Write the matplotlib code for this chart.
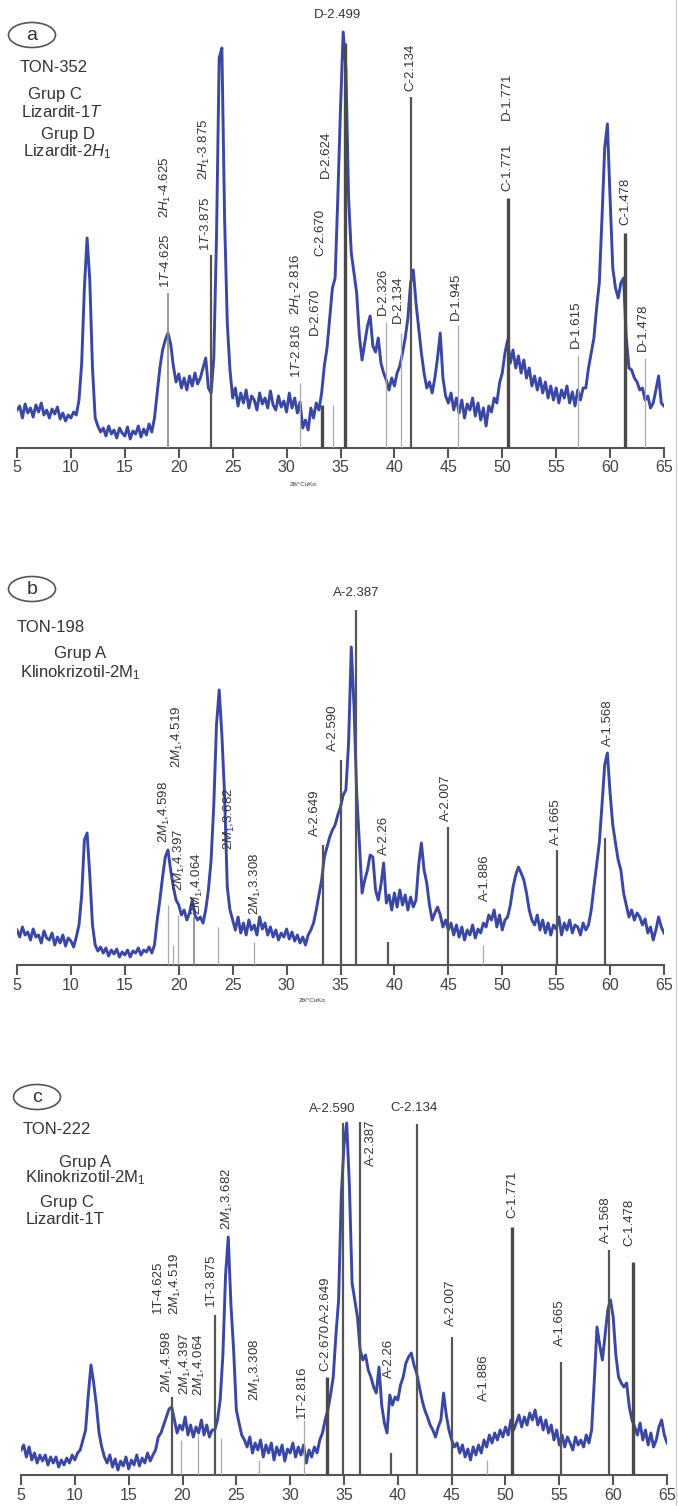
import numpy as np
import matplotlib
matplotlib.use("Agg")
import matplotlib.pyplot as plt
from matplotlib.patches import Ellipse
from matplotlib.lines import Line2D

plt.rcParams['font.family'] = ['Liberation Sans', 'DejaVu Sans']
plt.rcParams['mathtext.fontset'] = 'custom'
plt.rcParams['mathtext.rm'] = 'Liberation Sans'
plt.rcParams['mathtext.it'] = 'Liberation Sans:italic'
plt.rcParams['mathtext.bf'] = 'Liberation Sans:bold'

# intensities (arbitrary units) every 0.25 deg from 5 to 65
a_int = [38, 42, 30, 44,  35, 40, 31, 43,  36, 45, 33, 38,  30, 39, 34, 41,   # 5-8
         29, 35, 27, 33,  30, 36, 33, 48,  85, 160, 210, 168,  80, 30, 22, 16,  # 9-12
         20, 12, 22, 14,  18, 10, 20, 15,  12, 21, 9, 17,  14, 22, 11, 19,     # 13-16
         13, 24, 16, 30,  55, 80, 98, 108,  115, 104, 82, 66,  74, 60, 70, 58,  # 17-20
         72, 62, 75, 64,  70, 80, 90, 60,  55, 90, 210, 390,  400, 230, 125, 78,  # 21-24
         50, 60, 42, 55,  45, 58, 40, 52,  48, 38, 55, 44,  50, 40, 57, 43,    # 25-28
         38, 52, 41, 47,  36, 55, 40, 50,  35, 46, 20, 28,  18, 40, 30, 45,    # 29-32
         38, 55, 82, 100,  130, 160, 170, 250,  340, 416, 380, 250,  195, 175, 155, 112,  # 33-36
         88, 105, 122, 132,  102, 96, 110, 85,  75, 68, 58, 70,  62, 75, 82, 95,  # 37-40
         110, 130, 165, 178,  145, 120, 95, 75,  60, 66, 55, 70,  90, 115, 70, 52,  # 41-44
         45, 55, 38, 50,  35, 48, 30, 44,  38, 50, 32, 45,  28, 40, 22, 42,    # 45-48
         36, 50, 45, 65,  75, 95, 108, 85,  98, 80, 92, 75,  88, 70, 80, 62,   # 49-52
         72, 58, 70, 55,  66, 50, 62, 48,  60, 45, 58, 50,  62, 45, 56, 42,    # 53-56
         58, 48, 60, 60,  80, 95, 110, 140,  165, 230, 300, 324,  250, 180, 160, 150,  # 57-60
         165, 170, 110, 80,  78, 70, 66, 58,  60, 48, 52, 40,  45, 58, 72, 45,  # 61-64
         42]

b_int = [35, 28, 38, 30,  33, 25, 36, 28,  30, 22, 34, 27,  25, 32, 20, 28,   # 5-8
         22, 30, 19, 27,  24, 18, 28, 40,  70, 125, 132, 90,  40, 20, 14, 18,  # 9-12
         12, 17, 9, 15,  11, 16, 8, 13,  10, 15, 8, 14,  12, 17, 10, 15,       # 13-16
         13, 18, 12, 20,  45, 65, 88, 108,  115, 95, 78, 65,  60, 50, 55, 45,  # 17-20
         52, 65, 50, 45,  48, 42, 55, 75,  105, 160, 240, 275,  230, 170, 78, 55,  # 21-24
         45, 35, 48, 32,  42, 30, 45, 35,  40, 30, 48, 36,  42, 30, 38, 28,    # 25-28
         35, 25, 32, 28,  36, 26, 33, 24,  30, 22, 28, 20,  30, 35, 42, 55,    # 29-32
         70, 85, 108, 118,  128, 135, 140, 150,  158, 170, 175, 222,  318, 260, 172, 122,  # 33-36
         72, 85, 95, 110,  108, 75, 65, 80,  102, 62, 70, 55,  72, 58, 75, 60,  # 37-40
         70, 55, 68, 58,  65, 100, 122, 95,  82, 60, 45, 52,  58, 50, 38, 45,  # 41-44
         35, 42, 30, 40,  28, 38, 25, 35,  30, 40, 27, 36,  32, 42, 38, 50,    # 45-48
         45, 55, 38, 50,  35, 45, 48, 60,  78, 90, 98, 92,  85, 72, 55, 45,    # 49-52
         40, 50, 35, 45,  32, 42, 30, 40,  36, 48, 30, 42,  35, 45, 32, 40,    # 53-56
         38, 30, 42, 35,  40, 55, 78, 100,  122, 160, 200, 212,  172, 140, 122, 105,  # 57-60
         95, 72, 60, 48,  55, 45, 52, 48,  40, 46, 32, 38,  25, 35, 48, 38,    # 61-64
         32]

c_int = [25, 30, 18, 28,  15, 22, 12, 20,  14, 20, 10, 18,  12, 18, 8, 15,    # 5-8
         10, 17, 12, 20,  15, 22, 25, 35,  45, 80, 110, 92,  70, 42, 28, 18,   # 9-12
         12, 20, 8, 16,  5, 14, 9, 18,  6, 15, 10, 20,  9, 17, 12, 22,         # 13-16
         14, 20, 25, 38,  42, 50, 58, 66,  68, 55, 42, 50,  45, 58, 40, 50,    # 17-20
         38, 48, 42, 55,  40, 50, 38, 45,  45, 55, 75, 120,  200, 238, 170, 125,  # 21-24
         65, 52, 40, 35,  28, 38, 22, 32,  25, 35, 18, 30,  22, 32, 15, 28,    # 25-28
         20, 30, 14, 26,  22, 32, 18, 28,  20, 30, 12, 25,  18, 28, 22, 35,    # 29-32
         42, 55, 65, 80,  98, 140, 175, 280,  330, 352, 290, 192,  175, 158, 125, 115,  # 33-36
         120, 105, 98, 88,  82, 108, 70, 52,  42, 80, 70, 78,  75, 90, 98, 112,  # 37-40
         118, 122, 110, 102,  88, 75, 65, 58,  50, 45, 38, 48,  55, 82, 60, 45,  # 41-44
         35, 28, 32, 22,  30, 18, 26, 15,  28, 20, 30, 22,  35, 28, 40, 32,    # 45-48
         42, 35, 45, 38,  48, 40, 55, 45,  52, 60, 48, 58,  50, 62, 55, 65,    # 49-52
         50, 58, 45, 55,  42, 50, 35, 45,  30, 40, 28, 38,  32, 25, 38, 30,    # 53-56
         35, 28, 40, 32,  45, 95, 148, 130,  115, 140, 165, 175,  158, 120, 98, 92,  # 57-60
         88, 92, 68, 55,  48, 40, 52, 35,  45, 30, 42, 28,  35, 48, 55, 40,    # 61-64
         32]

# reference lines (2theta, height, kind)
a_stick_pos = [19.0, 23.0, 31.2, 33.3, 34.3, 35.4, 39.2, 40.6, 41.5, 45.9, 50.5, 57.0, 61.4, 63.2]
a_stick_top = [155, 193, 65, 43, 43, 405, 126, 115, 351, 123, 250, 93, 215, 90]
a_stick_kind = ['m', 'd', 'l', 'D', 'l', 'D', 'l', 'l', 'd', 'l', 'D', 'l', 'D', 'l']

b_stick_pos = [18.97, 19.45, 19.97, 21.37, 23.66, 27.0, 33.4, 35.05, 36.45, 39.4, 44.93, 48.26, 55.08, 59.5]
b_stick_top = [60, 20, 50, 48, 38, 23, 120, 205, 355, 23, 138, 20, 115, 127]
b_stick_kind = ['l', 'l', 'l', 'm', 'l', 'l', 'd', 'd', 'd', 'd', 'd', 'l', 'd', 'd']

c_stick_pos = [18.98, 19.9, 21.43, 23.0, 23.6, 27.07, 31.3, 33.4, 34.95, 36.44, 39.35, 41.75,
               45.0, 48.3, 50.6, 55.14, 59.57, 61.8]
c_stick_top = [78, 35, 40, 160, 37, 15, 55, 98, 352, 353, 22, 351, 138, 15, 248, 113, 225, 213]
c_stick_kind = ['d', 'l', 'l', 'd', 'l', 'l', 'l', 'D', 'd', 'd', 'd', 'd', 'd', 'l', 'D', 'd', 'd', 'D']

H1 = r'2$\mathit{H}_1$'
M1 = r'2$\mathit{M}_1$'
T1 = r'1$\mathit{T}$'

# vertical labels: text, 2theta, height of label foot
a_labels = [(H1 + '-4.625', 18.8, 228), (T1 + '-4.625', 18.8, 158),
            (H1 + '-3.875', 22.4, 266), (T1 + '-3.875', 22.5, 195),
            (H1 + '-2.816', 30.9, 131), (T1 + '-2.816', 30.9, 68),
            ('D-2.670', 32.6, 111), ('C-2.670', 33.1, 190), ('D-2.624', 33.6, 268),
            ('D-2.326', 38.9, 131), ('D-2.134', 40.3, 123), ('C-2.134', 41.45, 355),
            ('D-1.945', 45.7, 126), ('D-1.771', 50.45, 326), ('C-1.771', 50.45, 255),
            ('D-1.615', 56.8, 98), ('C-1.478', 61.4, 221), ('D-1.478', 63.0, 95)]
a_hlabels = [('D-2.499', 34.7, 433)]

b_labels = [(M1 + ',4.519', 19.84, 195), (M1 + ',4.598', 18.7, 120),
            (M1 + ',4.397', 20.1, 72), (M1 + ',4.064', 21.7, 48),
            (M1 + ',3.682', 24.7, 113), (M1 + ',3.308', 27.1, 48),
            ('A-2.649', 32.6, 127), ('A-2.590', 34.3, 212), ('A-2.26', 39.0, 108),
            ('A-2.007', 44.8, 142), ('A-1.886', 48.4, 62), ('A-1.665', 55.0, 118),
            ('A-1.568', 59.8, 217)]
b_hlabels = [('A-2.387', 36.45, 372)]

c_labels = [('1T-4.625', 17.7, 160), (M1 + ',4.519', 19.3, 158),
            (M1 + ',4.598', 18.6, 80), (M1 + ',4.397', 20.3, 78), (M1 + ',4.064', 21.6, 77),
            ('1T-3.875', 22.6, 167), (M1 + ',3.682', 24.2, 243), (M1 + ',3.308', 26.8, 72),
            ('1T-2.816', 31.05, 55), ('C-2.670', 33.3, 102), ('A-2.649', 33.3, 150),
            ('A-2.26', 39.2, 95), ('A-2.007', 44.9, 147), ('A-1.886', 48.0, 72),
            ('C-1.771', 50.6, 255), ('A-1.665', 55.06, 127), ('A-1.568', 59.3, 230),
            ('C-1.478', 61.5, 227)]
c_hlabels = [('A-2.590', 33.93, 366), ('C-2.134', 41.47, 367)]

ticks = [5, 10, 15, 20, 25, 30, 35, 40, 45, 50, 55, 60, 65]

W, H = 678, 1506
fig = plt.figure(figsize=(W / 100, H / 100), dpi=100)
BLUE = '#3a47a3'
GREY = '#555555'
TXT = '#333333'
LAB = 9.5
stick_style = {'D': ('#4a4a4a', 2.4), 'd': ('#555555', 1.6),
               'm': ('#888888', 1.2), 'l': ('#aaaaaa', 0.9)}


def fx(px):
    return px / W


def fy(py):
    return 1 - py / H


def panel(left, right, top, axis_y, inten, spos, stop, skind, labels, hlabels):
    ax = fig.add_axes([fx(left), fy(axis_y), fx(right - left), (axis_y - top) / H])
    tt = np.linspace(5, 65, len(inten))
    ax.plot(tt, inten, color=BLUE, lw=2.1, zorder=2)
    for p, t, k in zip(spos, stop, skind):
        c, lw = stick_style[k]
        ax.vlines(p, 0, t, colors=c, lw=lw, zorder=3)
    for txt, p, h in labels:
        ax.text(p, h + 2, txt, rotation=90, ha='center', va='bottom', fontsize=LAB,
                color=TXT, clip_on=False)
    for txt, p, h in hlabels:
        ax.text(p, h, txt, ha='center', va='center', fontsize=LAB, color=TXT, clip_on=False)
    ax.set_xlim(5, 65)
    ax.set_ylim(0, axis_y - top)
    for s in ['top', 'left', 'right']:
        ax.spines[s].set_visible(False)
    ax.spines['bottom'].set_color(GREY)
    ax.spines['bottom'].set_linewidth(1.5)
    ax.set_yticks([])
    ax.set_xticks(ticks)
    ax.tick_params(axis='x', direction='out', length=7, width=1.5, color=GREY,
                   labelsize=11.5, labelcolor='#444444', pad=2)
    ax.patch.set_alpha(0)
    return ax


ax_a = panel(17, 664, 0, 448, a_int, a_stick_pos, a_stick_top, a_stick_kind, a_labels, a_hlabels)
ax_b = panel(17, 664, 520, 965, b_int, b_stick_pos, b_stick_top, b_stick_kind, b_labels, b_hlabels)
ax_c = panel(21, 667, 1040, 1475, c_int, c_stick_pos, c_stick_top, c_stick_kind, c_labels, c_hlabels)
ax_c.text(37.5, 355, 'A-2.387', rotation=90, ha='center', va='top', fontsize=LAB, color=TXT)

# 2theta axis captions (tiny in the original)
fig.text(fx(303), fy(485), '2θ/°CuKα', fontsize=4.5, ha='center', va='center', color=TXT)
fig.text(fx(312), fy(1000), '2θ/°CuKα', fontsize=4.5, ha='center', va='center', color=TXT)

# panel tags and sample descriptions
for letter, cx, cy in [('a', 32, 35), ('b', 32, 589), ('c', 37, 1097)]:
    fig.add_artist(Ellipse((fx(cx), fy(cy)), 47 / W, 25 / H, transform=fig.transFigure,
                           fill=False, edgecolor='#555555', lw=1.2))
    fig.text(fx(cx), fy(cy), letter, fontsize=14, ha='center', va='center', color=TXT)

legend_left = [('TON-352', 20, 68), ('TON-198', 17, 627), ('TON-222', 23, 1130)]
legend_center = [('Grup C', 55, 95), (r'Lizardit-1$\mathit{T}$', 62, 112),
                 ('Grup D', 68, 135), (r'Lizardit-2$\mathit{H}_1$', 67, 152),
                 ('Grup A', 80, 653), (r'Klinokrizotil-2M$_1$', 80, 673),
                 ('Grup A', 85, 1162), (r'Klinokrizotil-2M$_1$', 85, 1178),
                 ('Grup C', 67, 1202), ('Lizardit-1T', 65, 1220)]
for txt, x, y in legend_left:
    fig.text(fx(x), fy(y), txt, fontsize=12, ha='left', va='center', color=TXT)
for txt, x, y in legend_center:
    fig.text(fx(x), fy(y), txt, fontsize=12, ha='center', va='center', color=TXT)

fig.add_artist(Line2D([fx(676), fx(676)], [0, 1], transform=fig.transFigure,
                      color='#cccccc', lw=1))

fig.savefig('out.png', dpi=100)
